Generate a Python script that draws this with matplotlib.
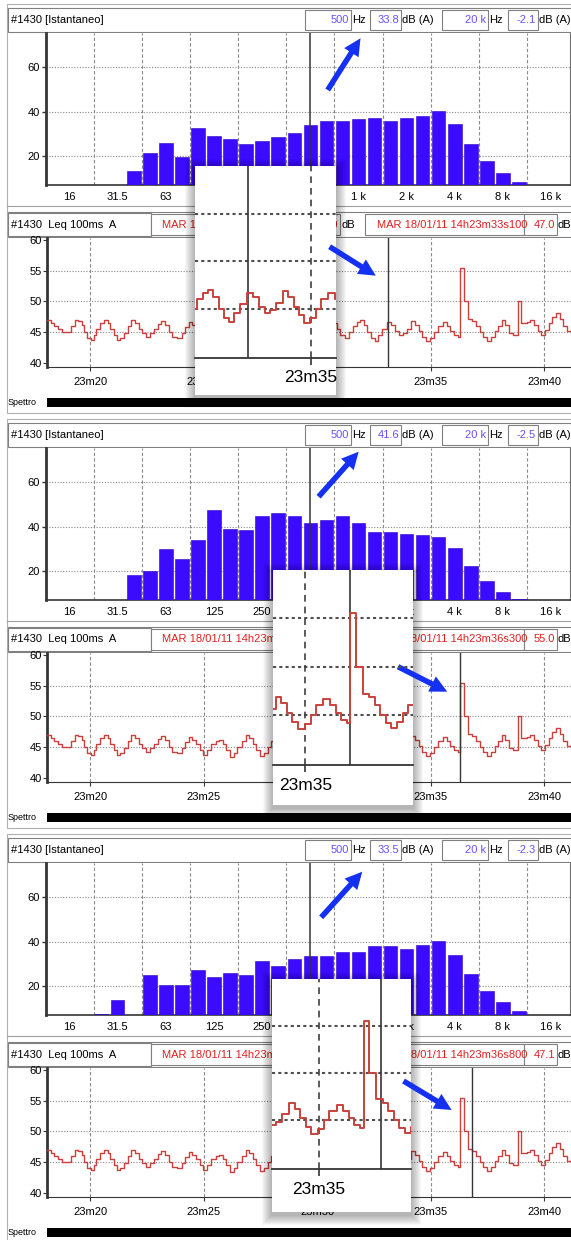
import numpy as np
import matplotlib
matplotlib.use('Agg')
import matplotlib.pyplot as plt
from matplotlib.patches import Rectangle, FancyArrow

plt.rcParams['font.family'] = ['Liberation Sans', 'DejaVu Sans']

W, H = 571, 1240

# third-octave band index of each bar (0 = 12.5 Hz, 1 = 16 Hz, ...)
bands_1 = list(range(5, 30))
spec_1 = [13.3, 21.6, 26.0, 19.4, 32.7, 29.0, 27.5, 25.6, 26.7, 28.6, 30.4, 34.1, 35.7,
          35.7, 36.6, 37.3, 35.9, 37.3, 38.1, 40.1, 34.2, 25.3, 17.9, 12.4, 8.3]
bands_2 = list(range(5, 30))
spec_2 = [18.4, 20.1, 29.7, 25.2, 33.8, 47.6, 39.0, 38.6, 44.6, 46.1, 44.6, 41.6, 43.1,
          44.6, 41.6, 37.5, 37.5, 36.8, 36.0, 35.3, 30.5, 22.2, 15.4, 10.6, 7.6]
bands_3 = list(range(3, 30))
spec_3 = [7.6, 13.9, 7.1, 25.1, 20.6, 20.6, 27.3, 24.0, 25.8, 25.1, 31.1, 28.8, 32.1, 33.6,
          33.6, 35.1, 35.1, 37.8, 37.8, 36.6, 38.3, 40.1, 33.8, 25.2, 17.8, 12.7, 8.6]

band_ticks = [1, 4, 7, 10, 13, 16, 19, 22, 25, 28, 31]
band_labels = ['16', '31.5', '63', '125', '250', '500', '1 k', '2 k', '4 k', '8 k', '16 k']

# Leq 100ms, seconds after 14h23m00 -> dB(A)
leq_t = [18.10, 18.26, 18.42, 18.58, 18.74, 19.06, 19.15, 19.31, 19.47, 19.63, 19.74, 19.87,
         20.03, 20.16, 20.27, 20.44, 20.60, 20.76, 20.89, 21.03, 21.16, 21.32, 21.48, 21.65,
         21.81, 21.97, 22.13, 22.29, 22.45, 22.61, 22.81, 22.97, 23.13, 23.29, 23.45, 23.61,
         23.82, 24.02, 24.18, 24.34, 24.50, 24.66, 24.82, 24.98, 25.15, 25.31, 25.52, 25.68,
         25.84, 26.00, 26.16, 26.32, 26.48, 26.68, 26.84, 27.00, 27.16, 27.32, 27.48, 27.65,
         27.81, 27.97, 28.13, 28.29, 28.45, 28.61, 28.77, 28.93, 29.10, 29.26, 29.42, 29.58,
         29.74, 29.90, 30.06, 30.22, 30.38, 30.55, 30.71, 30.87, 31.00, 31.24, 31.40, 31.56,
         31.73, 31.89, 32.05, 32.21, 32.37, 32.53, 32.69, 32.85, 33.06, 33.26, 33.42, 33.61,
         33.77, 33.94, 34.15, 34.31, 34.47, 34.63, 34.79, 34.98, 35.15, 35.31, 35.52, 35.71,
         35.87, 36.03, 36.19, 36.30, 36.45, 36.65, 36.84, 37.00, 37.16, 37.32, 37.48, 37.65,
         37.81, 37.97, 38.13, 38.29, 38.45, 38.61, 38.85, 38.98, 39.23, 39.39, 39.55, 39.71,
         39.87, 40.03, 40.19, 40.35, 40.52, 40.68, 40.84, 41.00, 41.16, 41.30]
leq_db = [47.0, 46.5, 46.0, 45.5, 45.0, 45.0, 46.0, 47.0, 46.8, 46.2, 45.0, 44.0,
          43.8, 44.5, 45.5, 46.5, 47.0, 46.5, 45.5, 44.5, 43.8, 44.0, 44.8, 46.0,
          47.0, 46.5, 45.5, 44.8, 44.3, 44.8, 45.5, 46.3, 46.8, 46.2, 45.0, 44.2,
          44.0, 44.8, 45.8, 46.6, 46.2, 45.5, 44.5, 43.8, 44.5, 45.5, 46.0, 46.2,
          45.5, 44.5, 43.4, 44.0, 45.0, 46.0, 47.0, 46.5, 45.5, 44.5, 43.6, 44.0,
          45.0, 46.0, 46.6, 46.0, 45.0, 44.2, 44.0, 44.8, 45.8, 46.5, 46.8, 46.0,
          45.0, 44.3, 43.8, 44.5, 45.5, 46.3, 46.5, 45.5, 44.5, 44.0, 45.0, 46.0,
          46.6, 47.0, 46.2, 45.0, 44.0, 43.6, 44.5, 45.5, 46.6, 46.2, 45.2, 44.5,
          44.8, 45.6, 46.8, 46.2, 45.2, 44.3, 43.5, 44.0, 45.0, 46.0, 46.6, 46.0,
          45.2, 44.5, 44.2, 55.5, 50.0, 47.2, 46.8, 46.0, 45.0, 44.2, 43.6, 44.3,
          45.2, 46.0, 47.0, 46.2, 44.8, 44.5, 50.0, 46.5, 46.6, 47.0, 46.2, 45.2,
          44.6, 45.3, 46.5, 47.5, 48.2, 47.2, 46.0, 45.2, 45.5, 45.5]

ts_ticks = [20, 25, 30, 35, 40]
ts_labels = ['23m20', '23m25', '23m30', '23m35', '23m40']

# one entry per screenshot: cursor time, header readings, zoom window
cursor_t = [33.1, 36.3, 36.8]
cursor_txt = ['14h23m33s100', '14h23m36s300', '14h23m36s800']
cursor_db = ['47.0', '55.0', '47.1']
hz_db = ['33.8', '41.6', '33.5']
khz_db = ['-2.1', '-2.5', '-2.3']
zoom_win = [(31.5, 35.75), (34.07, 38.1), (33.66, 37.66)]

tops = [0, 415, 830]
cards = [(195, 166, 336, 395, 358), (273, 570, 413, 805, 765), (272, 979, 411, 1212, 1169)]
arrows = [((327.7, 90.0), (360.5, 38.3)), ((329.6, 246.7), (375.8, 275.7)),
          ((318.6, 496.7), (358.7, 451.7)), ((398.0, 666.7), (447.2, 691.7)),
          ((321.2, 917.3), (362.3, 871.7)), ((403.5, 1081.0), (451.6, 1110.0))]

BAR = '#3a0bff'
LINE = '#c8413c'
GRID = '#8a8a8a'
DARK = '#353535'
RED = '#e02020'
VIOLET = '#6a50ff'
ARROW = '#1430f0'

fig = plt.figure(figsize=(W / 100, H / 100), dpi=100)


def to_fig(x0, y0, x1, y1):
    return [x0 / W, 1 - y1 / H, (x1 - x0) / W, (y1 - y0) / H]


def overlay(z):
    ax = fig.add_axes([0, 0, 1, 1], zorder=z)
    ax.set_xlim(0, W)
    ax.set_ylim(H, 0)
    ax.axis('off')
    ax.patch.set_alpha(0)
    return ax


bg = overlay(0)
fg = overlay(5)


def box(ax, x0, y0, x1, y1, ec='#808080', fc='white', lw=0.8):
    ax.add_patch(Rectangle((x0, y0), x1 - x0, y1 - y0, facecolor=fc, edgecolor=ec, lw=lw))


def txt(ax, x, y, s, color='black', ha='left', size=8):
    ax.text(x, y, s, color=color, ha=ha, va='center', fontsize=size)


def headers(T, i):
    box(bg, 6.5, T + 4, 578, T + 413, ec='#b0b0b0')
    # spectrum header
    box(bg, 7.5, T + 8, 578, T + 32)
    txt(bg, 11, T + 20, '#1430 [Istantaneo]')
    box(bg, 305, T + 10, 351, T + 30)
    txt(bg, 349, T + 20, '500', VIOLET, 'right')
    txt(bg, 352, T + 20, 'Hz')
    box(bg, 370, T + 10, 401, T + 30)
    txt(bg, 399, T + 20, hz_db[i], VIOLET, 'right')
    txt(bg, 402, T + 20, 'dB (A)')
    box(bg, 442, T + 10, 488, T + 30)
    txt(bg, 486, T + 20, '20 k', VIOLET, 'right')
    txt(bg, 489, T + 20, 'Hz')
    box(bg, 508, T + 10, 538, T + 30)
    txt(bg, 536, T + 20, khz_db[i], VIOLET, 'right')
    txt(bg, 539, T + 20, 'dB (A)')
    bg.plot([6.5, 578], [T + 206, T + 206], color='#a0a0a0', lw=0.8)
    # time history header
    box(bg, 7.5, T + 212, 578, T + 237)
    box(bg, 7.5, T + 213, 151, T + 236)
    txt(bg, 11, T + 224.5, '#1430  Leq 100ms  A')
    box(bg, 151, T + 214, 307, T + 235)
    txt(bg, 162, T + 224.5, 'MAR 18/01/11 14h23m18s100', RED)
    box(bg, 307, T + 214, 340, T + 235)
    txt(bg, 338, T + 224.5, '46.0', RED, 'right')
    txt(bg, 341, T + 224.5, 'dB')
    box(bg, 365, T + 214, 524, T + 235)
    txt(bg, 377, T + 224.5, 'MAR 18/01/11 ' + cursor_txt[i], RED)
    box(bg, 524, T + 214, 557, T + 235)
    txt(bg, 555, T + 224.5, cursor_db[i], RED, 'right')
    txt(bg, 558, T + 224.5, 'dB')
    # spectrum bar strip
    txt(bg, 8, T + 402.5, 'Spettro', size=6.5)
    bg.add_patch(Rectangle((47, T + 398), W - 47, 9, color='black', lw=0))


def spectrum(T, bands, levels):
    ax = fig.add_axes(to_fig(45.5, T + 33, 570, T + 185), zorder=1)
    ax.bar(np.array(bands) + 0.5, levels, width=0.84, color=BAR, edgecolor='#2a00c8',
           linewidth=0.4, zorder=3)
    for v in [20, 40, 60]:
        ax.axhline(v, color=GRID, lw=0.8, ls=(0, (1, 1.5)), zorder=1)
    for b in range(3, 33, 3):
        ax.axvline(b, color=GRID, lw=0.8, ls=(0, (3, 2)), zorder=1)
    ax.axvline(16.5, color=DARK, lw=1.1, zorder=4)
    ax.set_xlim(0, 32.68)
    ax.set_ylim(7.0, 75.3)
    ax.set_yticks([20, 40, 60])
    ax.set_xticks(np.array(band_ticks) + 0.5)
    ax.set_xticklabels(band_labels)
    ax.tick_params(axis='x', length=0, pad=5, labelsize=8)
    ax.tick_params(axis='y', length=3, width=1, pad=1, labelsize=8, color=DARK)
    ax.spines['top'].set_visible(False)
    ax.spines['left'].set_linewidth(2)
    ax.spines['left'].set_color(DARK)
    ax.spines['bottom'].set_linewidth(1.2)
    ax.spines['bottom'].set_color(DARK)
    ax.spines['right'].set_color('#707070')


def history(T, t_cur):
    ax = fig.add_axes(to_fig(47.3, T + 238, 571, T + 367), zorder=1)
    ax.step(leq_t, leq_db, where='post', color=LINE, lw=1.0, zorder=3)
    for v in [45, 50, 55]:
        ax.axhline(v, color=GRID, lw=0.8, ls=(0, (1, 1.5)), zorder=1)
    for t in ts_ticks:
        ax.axvline(t, color=GRID, lw=0.8, ls=(0, (3, 2)), zorder=1)
    ax.axvline(t_cur, color=DARK, lw=1.0, zorder=4)
    ax.set_xlim(18.106, 41.18)
    ax.set_ylim(39.35, 60.3)
    ax.set_yticks([40, 45, 50, 55, 60])
    ax.set_xticks(ts_ticks)
    ax.set_xticklabels(ts_labels)
    ax.tick_params(axis='x', length=3, pad=4, labelsize=8, color=DARK)
    ax.tick_params(axis='y', length=3, pad=1, labelsize=8, color=DARK)
    for s in ['top', 'right']:
        ax.spines[s].set_visible(False)
    ax.spines['left'].set_linewidth(2)
    ax.spines['left'].set_color(DARK)
    ax.spines['bottom'].set_color(DARK)


def zoom_card(card, win, t_cur):
    x0, y0, x1, y1, yb = card
    for k in range(1, 11):
        fg.add_patch(Rectangle((x0 - k, y0 - k + 3), x1 - x0 + 2 * k, y1 - y0 + 2 * k,
                               color='black', alpha=0.03, lw=0))
    fg.add_patch(Rectangle((x0, y0), x1 - x0, y1 - y0, color='white', lw=0))
    ax = fig.add_axes(to_fig(x0, y0, x1, yb), zorder=10)
    ax.patch.set_alpha(0)
    ax.step(leq_t, leq_db, where='post', color=LINE, lw=1.4, zorder=3)
    for v in [45, 50, 55]:
        ax.axhline(v, color='#505050', lw=1.5, ls=(0, (1.5, 1.5)), zorder=1)
    ax.axvline(35, color='#404040', lw=1.2, ls=(0, (4, 3)), zorder=1)
    ax.axvline(t_cur, color=DARK, lw=1.2, zorder=2)
    ax.set_xlim(*win)
    ax.set_ylim(39.8, 60.0)
    ax.set_yticks([])
    ax.set_xticks([35])
    ax.set_xticklabels(['23m35'])
    ax.tick_params(axis='x', length=5, width=1.2, pad=4, labelsize=12.5, color=DARK)
    for s in ['top', 'right', 'left']:
        ax.spines[s].set_visible(False)
    ax.spines['bottom'].set_color(DARK)
    ax.spines['bottom'].set_linewidth(1.3)


all_bands = [bands_1, bands_2, bands_3]
all_specs = [spec_1, spec_2, spec_3]

for i, T in enumerate(tops):
    headers(T, i)
    spectrum(T, all_bands[i], all_specs[i])
    history(T, cursor_t[i])
    zoom_card(cards[i], zoom_win[i], cursor_t[i])

for (xa, ya), (xb, yb) in arrows:
    fg.add_patch(FancyArrow(xa, ya, xb - xa, yb - ya, width=5.5, head_width=17,
                            head_length=17, length_includes_head=True, color=ARROW, lw=0))

fig.savefig('out.png', dpi=100)
